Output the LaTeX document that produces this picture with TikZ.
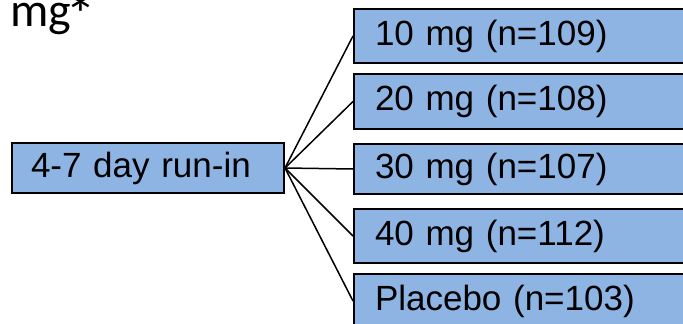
\documentclass[tikz,border=0pt]{standalone}
\usepackage{fontspec}
\setmainfont{Liberation Sans}
\newfontfamily\titlefont{Carlito}
\definecolor{armblue}{HTML}{8EB4E3}
\begin{document}
\begin{tikzpicture}[x=1pt, y=-1pt,
  armbox/.style={draw=black, line width=2pt, fill=armblue, anchor=north west,
    inner xsep=21pt, inner ysep=0pt, text width=340pt, align=left,
    font=\fontsize{35}{42}\selectfont},
  fanline/.style={draw=black, line width=1.5pt}]
  \useasboundingbox (0,0) rectangle (683,324);
  \clip (0,0) rectangle (683,324);

  % partial heading (the asterisk is set on its own so it sits lower)
  \node[anchor=base west, inner sep=0pt, font=\titlefont\fontsize{48}{56}\selectfont]
    (head) at (10,27) {mg};
  \node[anchor=center, inner sep=0pt, font=\titlefont\fontsize{62}{70}\selectfont]
    (star) at (81,14) {*};

  % run-in box
  \node[draw=black, line width=2pt, fill=armblue, anchor=north west,
    minimum width=272pt, minimum height=50pt, inner xsep=19pt, text width=234pt,
    align=left, font=\fontsize{35}{42}\selectfont]
    (runin) at (11,142) {4-7 day run-in};

  % treatment arms
  \node[armbox, minimum height=54pt] (a10) at (353,8)   {10 mg (n=109)};
  \node[armbox, minimum height=55pt] (a20) at (353,73)  {20 mg (n=108)};
  \node[armbox, minimum height=50pt] (a30) at (353,143) {30 mg (n=107)};
  \node[armbox, minimum height=54pt] (a40) at (353,208) {40 mg (n=112)};
  \node[armbox, minimum height=54pt] (apl) at (353,273) {Placebo (n=103)};

  % fan of connectors
  \foreach \t in {a10,a20,a30,a40,apl}
    \draw[fanline] (runin.east) -- (\t.west);
\end{tikzpicture}
\end{document}
